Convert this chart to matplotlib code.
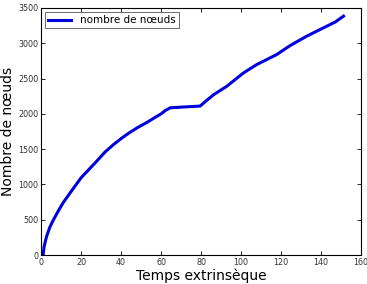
import numpy as np
import matplotlib
matplotlib.use('Agg')
import matplotlib.pyplot as plt

# points
temps = [0.5, 1.0, 1.5, 2.7, 4.3, 6.0, 8.5, 11.0, 15.0, 20.0, 23.5, 27.5, 32.0,
         36.0, 40.0, 44.0, 48.5, 53.0, 57.0, 60.0, 62.0, 64.5, 70.0, 79.5,
         83.0, 86.2, 92.8, 101.2, 107.8, 117.8, 124.5, 132.8, 141.2, 147.0,
         151.2]
noeuds = [0, 0, 120, 260, 390, 490, 620, 740, 900, 1095, 1200, 1320, 1460,
          1560, 1650, 1730, 1810, 1880, 1950, 2000, 2045, 2085, 2095, 2110,
          2195, 2270, 2390, 2580, 2698, 2840, 2967, 3100, 3219, 3300, 3384]

fig = plt.figure(figsize=(3.67, 2.84), dpi=100)
ax = fig.add_axes([0.112, 0.102, 0.872, 0.870])

ax.plot(temps, noeuds, color='#0000dd', linewidth=2.2, label='nombre de nœuds')

ax.set_xlim(0, 160)
ax.set_ylim(0, 3500)
ax.set_xticks(np.arange(0, 161, 20))
ax.set_yticks(np.arange(0, 3501, 500))
ax.tick_params(direction='in', top=True, right=True, labelsize=5.8,
               labelcolor='#333333', length=3, width=0.6, pad=2)
for s in ax.spines.values():
    s.set_linewidth(0.8)

ax.set_xlabel('Temps extrinsèque', fontsize=10, labelpad=1)
ax.set_ylabel('Nombre de nœuds', fontsize=10, labelpad=2)

leg = ax.legend(loc='upper left', fontsize=7.5, handlelength=2.2,
                borderpad=0.3, fancybox=False, borderaxespad=0.4)
leg.get_frame().set_edgecolor('#444444')
leg.get_frame().set_linewidth(0.7)

plt.savefig('out.png', dpi=100)
